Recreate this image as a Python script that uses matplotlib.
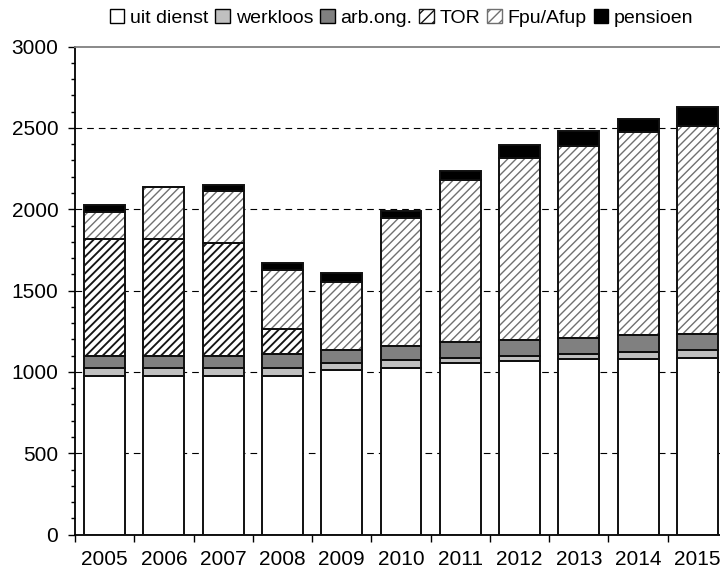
import matplotlib
matplotlib.use("Agg")
import matplotlib.pyplot as plt
from matplotlib.patches import Patch
import numpy as np

years = ["2005", "2006", "2007", "2008", "2009", "2010", "2011", "2012", "2013", "2014", "2015"]
uit_dienst = [975, 975, 975, 975, 1012, 1025, 1052, 1065, 1077, 1077, 1087]
werkloos = [50, 50, 50, 50, 40, 48, 35, 35, 35, 47, 48]
arb_ong = [75, 75, 75, 87, 85, 87, 98, 98, 98, 100, 100]
tor = [717, 715, 690, 150, 0, 0, 0, 0, 0, 0, 0]
fpu_afup = [166, 319, 324, 362, 414, 786, 993, 1115, 1178, 1250, 1274]
pensioen = [43, 0, 35, 43, 55, 45, 57, 82, 95, 80, 121]

labels = ["uit dienst", "werkloos", "arb.ong.", "TOR", "Fpu/Afup", "pensioen"]

plt.rcParams['font.family'] = ['Liberation Sans', 'DejaVu Sans']
plt.rcParams['hatch.linewidth'] = 1.0

fig = plt.figure(figsize=(7.2, 5.72), dpi=100)
ax = fig.add_axes([75/720, 1-534.6/572, 652/720, 488/572])

x = np.arange(len(years)) + 0.5
w = 0.69
series = [uit_dienst, werkloos, arb_ong, tor, fpu_afup, pensioen]
styles = [
    dict(fc="white", hatch=None, hc=None, hlw=None),
    dict(fc="#C0C0C0", hatch=None, hc=None, hlw=None),
    dict(fc="#808080", hatch=None, hc=None, hlw=None),
    dict(fc="white", hatch="////", hc="#151515", hlw=1.35),
    dict(fc="white", hatch="////", hc="#707070", hlw=1.0),
    dict(fc="black", hatch=None, hc=None, hlw=None),
]


def set_hlw(artists, lw):
    for a in artists:
        try:
            a.set_hatch_linewidth(lw)
        except AttributeError:
            pass


bottom = np.zeros(len(years))
handles = []
for vals, st, lab in zip(series, styles, labels):
    vals = np.array(vals, dtype=float)
    if st["hatch"]:
        with plt.rc_context({'hatch.linewidth': st["hlw"]}):
            bars = ax.bar(x, vals, w, bottom=bottom, color=st["fc"], edgecolor=st["hc"],
                          hatch=st["hatch"], linewidth=0, zorder=2)
            h = Patch(facecolor="white", edgecolor=st["hc"], hatch="///")
        set_hlw(bars, st["hlw"])
        set_hlw([h], st["hlw"])
    else:
        ax.bar(x, vals, w, bottom=bottom, color=st["fc"], linewidth=0, zorder=2)
        h = Patch(facecolor=st["fc"], edgecolor="black")
    ax.bar(x, vals, w, bottom=bottom, fill=False, edgecolor="#101010",
           linewidth=1.4, zorder=3)
    handles.append(h)
    bottom += vals

ax.set_ylim(0, 3000)
ax.set_xlim(0, len(years))
ax.set_yticks(np.arange(0, 3001, 500))
ax.set_yticks(np.arange(0, 3001, 100), minor=True)
ax.tick_params(axis='y', which='major', length=5, width=1, labelsize=15, pad=7, direction='out')
ax.tick_params(axis='y', which='minor', length=3, width=1, direction='out')

ax.set_xticks(np.arange(0, len(years) + 1))
ax.set_xticklabels([])
ax.set_xticks(x, minor=True)
ax.set_xticklabels(years, minor=True)
ax.tick_params(axis='x', which='major', length=5, width=1, direction='out')
ax.tick_params(axis='x', which='minor', length=0, labelsize=15, pad=11)

for yv in [500, 1000, 1500, 2000, 2500]:
    ax.axhline(yv, color="black", linewidth=0.8, linestyle=(0, (6, 4.5)), zorder=1)

ax.spines['left'].set_linewidth(1.3)
ax.spines['bottom'].set_linewidth(1.3)
ax.spines['top'].set_color("#808080")
ax.spines['top'].set_linewidth(1.3)
ax.spines['right'].set_visible(False)

fig.legend(handles, labels, loc="center", bbox_to_anchor=(0.558, 0.969), ncol=6,
           frameon=False, fontsize=14, handlelength=0.75, handleheight=0.75,
           handletextpad=0.3, columnspacing=0.35, borderpad=0)

fig.savefig("out.png", dpi=100)
